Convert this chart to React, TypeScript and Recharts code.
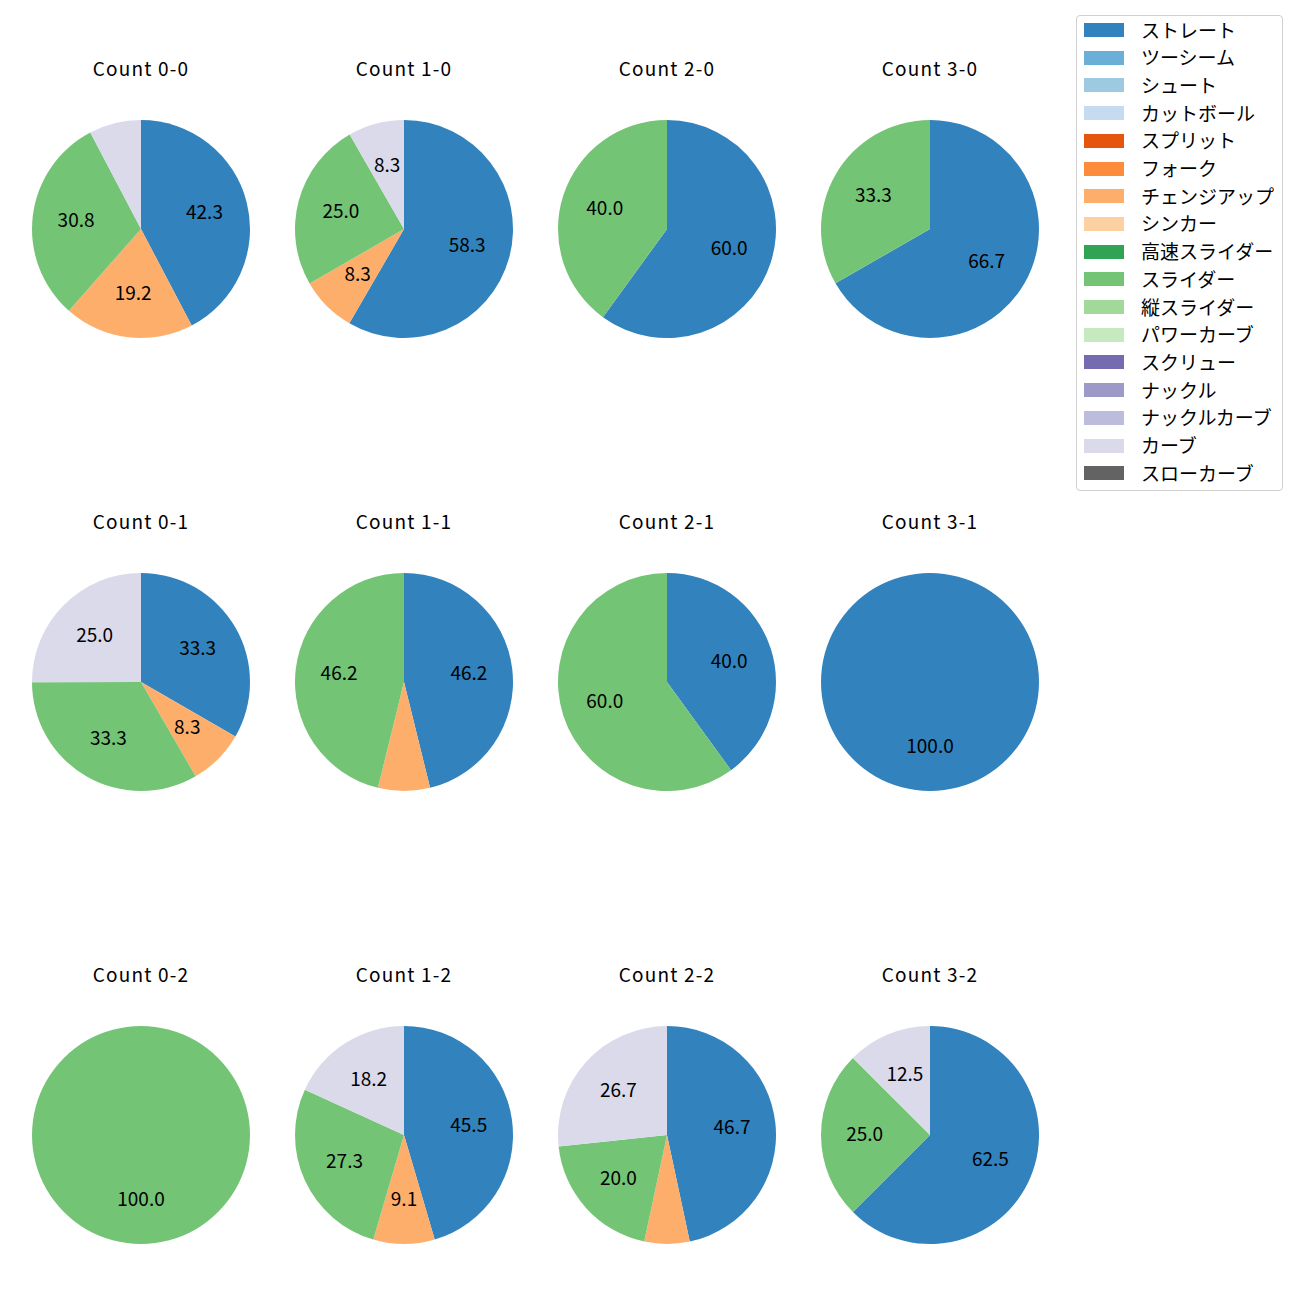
import { PieChart, Pie, Cell } from "recharts";

const pitchTypes = [
  "ストレート", "ツーシーム", "シュート", "カットボール", "スプリット", "フォーク",
  "チェンジアップ", "シンカー", "高速スライダー", "スライダー", "縦スライダー",
  "パワーカーブ", "スクリュー", "ナックル", "ナックルカーブ", "カーブ", "スローカーブ",
];

const pitchColors = [
  "#3182bd", "#6baed6", "#9ecae1", "#c6dbef", "#e6550d", "#fd8d3c",
  "#fdae6b", "#fdd0a2", "#31a354", "#74c476", "#a1d99b",
  "#c7e9c0", "#756bb1", "#9e9ac8", "#bcbddc", "#dadaeb", "#636363",
];

const countTitles = [
  "Count 0-0", "Count 1-0", "Count 2-0", "Count 3-0",
  "Count 0-1", "Count 1-1", "Count 2-1", "Count 3-1",
  "Count 0-2", "Count 1-2", "Count 2-2", "Count 3-2",
];

// per count: [pitch name, percent]
const count00: [string, number][] = [["ストレート", 42.3], ["チェンジアップ", 19.2], ["スライダー", 30.8], ["カーブ", 7.7]];
const count10: [string, number][] = [["ストレート", 58.3], ["チェンジアップ", 8.3], ["スライダー", 25.0], ["カーブ", 8.3]];
const count20: [string, number][] = [["ストレート", 60.0], ["スライダー", 40.0]];
const count30: [string, number][] = [["ストレート", 66.7], ["スライダー", 33.3]];
const count01: [string, number][] = [["ストレート", 33.3], ["チェンジアップ", 8.3], ["スライダー", 33.3], ["カーブ", 25.0]];
const count11: [string, number][] = [["ストレート", 46.2], ["チェンジアップ", 7.7], ["スライダー", 46.2]];
const count21: [string, number][] = [["ストレート", 40.0], ["スライダー", 60.0]];
const count31: [string, number][] = [["ストレート", 100.0]];
const count02: [string, number][] = [["スライダー", 100.0]];
const count12: [string, number][] = [["ストレート", 45.5], ["チェンジアップ", 9.1], ["スライダー", 27.3], ["カーブ", 18.2]];
const count22: [string, number][] = [["ストレート", 46.7], ["チェンジアップ", 6.7], ["スライダー", 20.0], ["カーブ", 26.7]];
const count32: [string, number][] = [["ストレート", 62.5], ["スライダー", 25.0], ["カーブ", 12.5]];

const allCounts = [count00, count10, count20, count30, count01, count11, count21, count31, count02, count12, count22, count32];

const colX = [141, 404, 667, 930];
const rowY = [229, 682, 1135];
const R = 109;
const FONT = "'Noto Sans CJK JP', 'Noto Sans', sans-serif";
const FS = 19;
const RAD = Math.PI / 180;

const colorOf = (name: string) => pitchColors[pitchTypes.indexOf(name)];

const renderLabel = (props: any) => {
  const { cx, cy, midAngle, outerRadius, value } = props;
  if (value < 8) return null;
  const r = outerRadius * 0.6;
  const x = cx + r * Math.cos(-midAngle * RAD);
  const y = cy + r * Math.sin(-midAngle * RAD) - 2.5;
  return (
    <text x={x} y={y} textAnchor="middle" dominantBaseline="central" fontSize={FS} fill="#000" fontFamily={FONT}>
      {value.toFixed(1)}
    </text>
  );
};

const CountPie = ({ title, data, x, y }: { title: string; data: [string, number][]; x: number; y: number }) => {
  const rows = data.map(([name, value]) => ({ name, value }));
  const size = 240;
  return (
    <>
      <div
        style={{
          position: "absolute", left: x - 100, top: y - 161 - 12, width: 200, height: 24, lineHeight: "24px",
          textAlign: "center", fontSize: FS, letterSpacing: 1.2, fontFamily: FONT, color: "#000", whiteSpace: "nowrap",
        }}
      >
        {title}
      </div>
      <div style={{ position: "absolute", left: x - size / 2, top: y - size / 2 }}>
        <PieChart width={size} height={size} margin={{ top: 0, right: 0, bottom: 0, left: 0 }}>
          <Pie
            data={rows}
            dataKey="value"
            cx="50%"
            cy="50%"
            outerRadius={R}
            startAngle={90}
            endAngle={-270}
            stroke="none"
            label={renderLabel}
            labelLine={false}
            isAnimationActive={false}
          >
            {rows.map((r) => (
              <Cell key={r.name} fill={colorOf(r.name)} />
            ))}
          </Pie>
        </PieChart>
      </div>
    </>
  );
};

export default function App() {
  return (
    <div style={{ position: "absolute", left: 0, top: 0, width: 1300, height: 1300, background: "#fff" }}>
      {allCounts.map((d, i) => (
        <CountPie key={countTitles[i]} title={countTitles[i]} data={d} x={colX[i % 4]} y={rowY[Math.floor(i / 4)]} />
      ))}
      <div
        style={{
          position: "absolute", left: 1076, top: 15, width: 205, height: 474,
          border: "1px solid #d0d0d0", borderRadius: 4, background: "#fff", fontFamily: FONT,
        }}
      >
        {pitchTypes.map((name, i) => (
          <div
            key={name}
            style={{ position: "absolute", left: 7, top: 13.5 - 12 + i * 27.7, height: 24, display: "flex", alignItems: "center" }}
          >
            <div style={{ width: 40, height: 14, background: pitchColors[i], marginTop: 1 }} />
            <span style={{ marginLeft: 17, fontSize: FS, lineHeight: "24px", color: "#000", whiteSpace: "nowrap" }}>{name}</span>
          </div>
        ))}
      </div>
    </div>
  );
}
